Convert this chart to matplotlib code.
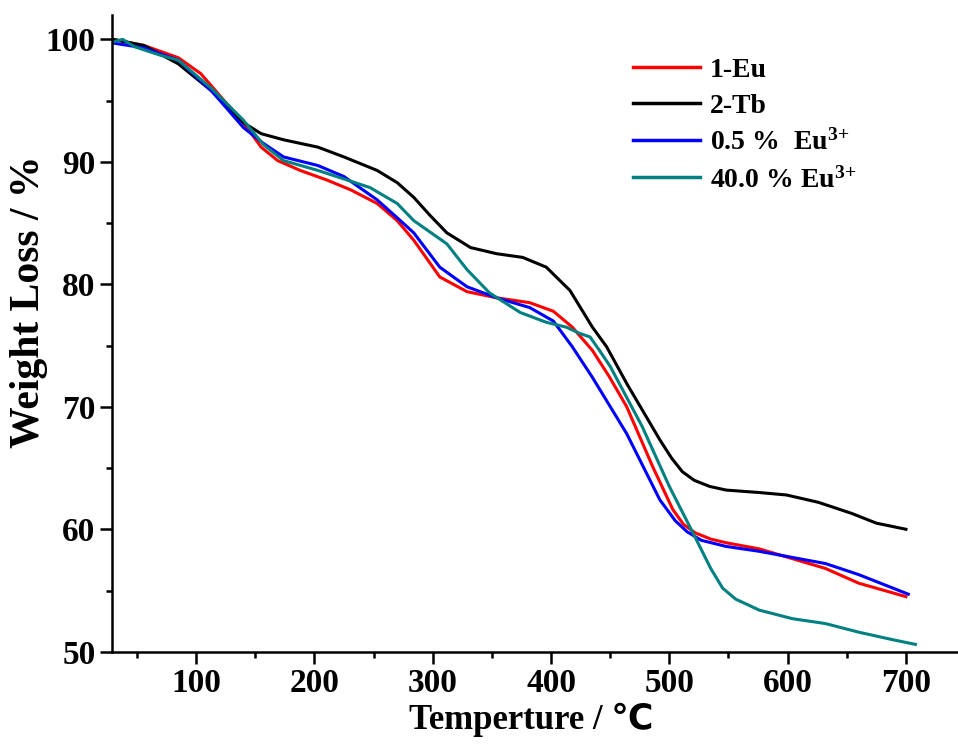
import matplotlib
matplotlib.use("Agg")
import matplotlib.pyplot as plt
from matplotlib.ticker import MultipleLocator

plt.rcParams['font.family'] = ['Liberation Serif', 'DejaVu Sans']
plt.rcParams['font.weight'] = 'bold'
plt.rcParams['mathtext.fontset'] = 'custom'
plt.rcParams['mathtext.rm'] = 'Liberation Serif:bold'
plt.rcParams['mathtext.bf'] = 'Liberation Serif:bold'
plt.rcParams['mathtext.default'] = 'bf'

# 1-Eu
t_eu = [30, 56, 85, 104, 121, 140, 155, 169, 188, 211, 231, 253, 270, 284, 306, 329,
        354, 382, 402, 418, 435, 449, 464, 486, 503, 512, 522, 535, 548, 576, 604, 632,
        660, 700]
w_eu = [100.0, 99.5, 98.5, 97.2, 95.3, 93.2, 91.2, 90.1, 89.3, 88.5, 87.7, 86.6, 85.2,
        83.6, 80.6, 79.4, 78.9, 78.5, 77.8, 76.5, 74.6, 72.5, 70.0, 65.1, 61.6, 60.4,
        59.7, 59.2, 58.9, 58.4, 57.6, 56.8, 55.6, 54.5]

# 2-Tb
t_tb = [30, 56, 85, 113, 140, 155, 174, 203, 225, 253, 270, 284, 298, 312, 332, 354,
        376, 396, 416, 435, 447, 464, 492, 502, 511, 521, 534, 548, 576, 599, 626, 654,
        675, 700]
w_tb = [100.0, 99.5, 98.0, 95.8, 93.2, 92.3, 91.8, 91.2, 90.4, 89.3, 88.3, 87.1, 85.6,
        84.2, 83.0, 82.5, 82.2, 81.4, 79.5, 76.5, 74.9, 71.9, 67.3, 65.8, 64.7, 64.0,
        63.5, 63.2, 63.0, 62.8, 62.2, 61.3, 60.5, 60.0]

# 0.5 % Eu3+
t_05 = [30, 56, 85, 113, 140, 157, 174, 203, 225, 253, 275, 284, 306, 329, 354, 382,
        402, 418, 435, 464, 492, 505, 515, 527, 548, 576, 604, 632, 660, 702]
w_05 = [99.7, 99.3, 98.3, 95.8, 92.8, 91.5, 90.4, 89.7, 88.8, 86.9, 85.0, 84.2, 81.4,
        79.8, 78.9, 78.1, 77.0, 74.9, 72.4, 67.8, 62.4, 60.7, 59.8, 59.1, 58.6, 58.2,
        57.7, 57.2, 56.3, 54.7]

# 40.0 % Eu3+
t_40 = [30, 38, 48, 70, 85, 113, 140, 157, 174, 203, 225, 247, 270, 284, 312, 329, 348,
        374, 396, 413, 424, 433, 441, 450, 477, 500, 520, 535, 545, 556, 576, 604, 632,
        660, 688, 708]
w_40 = [99.8, 100.0, 99.4, 98.7, 98.3, 96.0, 93.4, 91.4, 90.1, 89.3, 88.6, 87.9, 86.6,
        85.2, 83.3, 81.2, 79.3, 77.7, 76.9, 76.5, 76.0, 75.7, 74.6, 73.3, 68.4, 63.5,
        59.7, 56.8, 55.2, 54.3, 53.4, 52.7, 52.3, 51.6, 51.0, 50.6]

fig = plt.figure(figsize=(9.58, 7.44), dpi=100)
ax = fig.add_axes([0.117, 0.124, 0.883, 0.856])

ax.plot(t_eu, w_eu, color='#ff0000', lw=2.2, label='1-Eu')
ax.plot(t_tb, w_tb, color='black', lw=2.2, label='2-Tb')
ax.plot(t_05, w_05, color='#0000ff', lw=2.2, label=r'0.5 %  Eu$^{3\text{+}}$')
ax.plot(t_40, w_40, color='#008080', lw=2.2, label=r'40.0 % Eu$^{3\text{+}}$')

ax.set_xlim(29, 744)
ax.set_ylim(50, 102)
ax.xaxis.set_major_locator(MultipleLocator(100))
ax.xaxis.set_minor_locator(MultipleLocator(50))
ax.yaxis.set_major_locator(MultipleLocator(10))
ax.yaxis.set_minor_locator(MultipleLocator(5))
ax.set_xticks([100, 200, 300, 400, 500, 600, 700])

for s in ['top', 'right']:
    ax.spines[s].set_visible(False)
for s in ['left', 'bottom']:
    ax.spines[s].set_linewidth(1.8)

ax.tick_params(which='major', direction='out', length=8.5, width=1.8, labelsize=24)
ax.tick_params(which='minor', direction='out', length=4.5, width=1.8)
for lab in ax.get_xticklabels() + ax.get_yticklabels():
    lab.set_fontweight('bold')

ax.set_xlabel('Temperture / ℃', fontsize=25, fontweight='bold')
ax.set_ylabel('Weight Loss / %', fontsize=30, fontweight='bold')
ax.xaxis.set_label_coords(0.496, -0.08)
ax.yaxis.set_label_coords(-0.076, 0.549)

leg = ax.legend(loc='upper left', bbox_to_anchor=(0.616, 0.933), frameon=False,
                fontsize=20, handlelength=2.4, handletextpad=0.36, labelspacing=0.38,
                borderpad=0, borderaxespad=0)
for line in leg.get_lines():
    line.set_linewidth(2.5)

fig.savefig('out.png', dpi=100)
